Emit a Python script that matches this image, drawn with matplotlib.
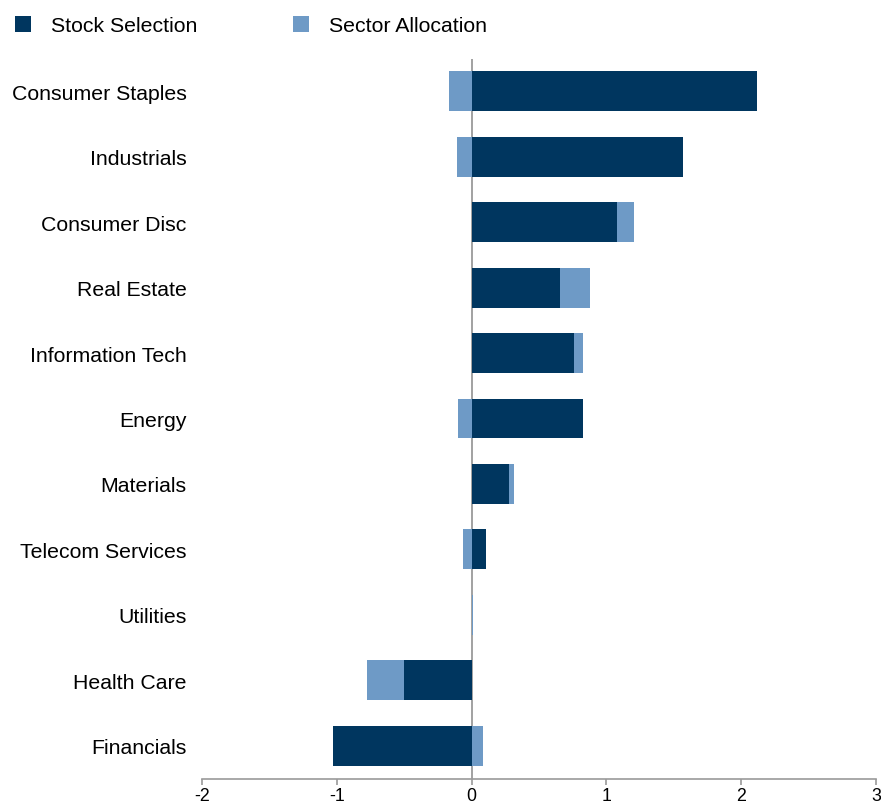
import numpy as np
import matplotlib.pyplot as plt
from matplotlib.patches import Patch

# Attribution by sector (percentage points)
sectors = ["Consumer Staples", "Industrials", "Consumer Disc", "Real Estate",
           "Information Tech", "Energy", "Materials", "Telecom Services",
           "Utilities", "Health Care", "Financials"]
stock_selection = [2.115, 1.569, 1.079, 0.655, 0.758, 0.828, 0.276, 0.109, 0.0, -0.504, -1.028]
sector_allocation = [-0.165, -0.111, 0.129, 0.227, 0.07, -0.10, 0.037, -0.067, 0.008, -0.27, 0.082]

dark = "#00365F"
light = "#6E9AC6"
grey = "#9A9A9A"

plt.rcParams['font.family'] = ['Liberation Sans', 'DejaVu Sans']

stock = np.array(stock_selection)
alloc = np.array(sector_allocation)
# positive and negative parts stack separately
alloc_left = np.where(np.sign(alloc) == np.sign(stock), stock, 0.0)

y = np.arange(len(sectors))[::-1]

fig = plt.figure(figsize=(8.81, 8.04), dpi=100)
ax = fig.add_axes([202 / 881, 1 - 779.5 / 804, 674 / 881, 720 / 804])

bh = 0.61
ax.axvline(0, color=grey, lw=1.3, zorder=1)
ax.barh(y, stock, height=bh, color=dark, lw=0, zorder=2)
ax.barh(y, alloc, left=alloc_left, height=bh, color=light, lw=0, zorder=2)

ax.set_xlim(-2, 3)
ax.set_ylim(-0.5, len(sectors) - 0.5)
ax.set_xticks([-2, -1, 0, 1, 2, 3])
ax.set_xticklabels(["-2", "-1", "0", "1", "2", "3"])
ax.set_yticks(y)
ax.set_yticklabels(sectors)

for s in ["top", "right", "left"]:
    ax.spines[s].set_visible(False)
ax.spines["bottom"].set_color(grey)
ax.spines["bottom"].set_linewidth(1.2)
ax.tick_params(axis="x", colors=grey, labelcolor="black", length=4.3, width=1.2,
               labelsize=12.8, pad=1.5)
ax.tick_params(axis="y", length=0, labelsize=15.3, pad=11)

handles = [Patch(facecolor=dark, label="Stock Selection"),
           Patch(facecolor=light, label="Sector Allocation")]
fig.legend(handles=handles, loc="upper left", bbox_to_anchor=(15 / 881, 1 - 17 / 804),
           ncol=2, frameon=False, fontsize=15.3, handlelength=0.75, handleheight=0.75,
           handletextpad=0.95, columnspacing=4.5, borderpad=0, borderaxespad=0)

fig.savefig("out.png", dpi=100)
